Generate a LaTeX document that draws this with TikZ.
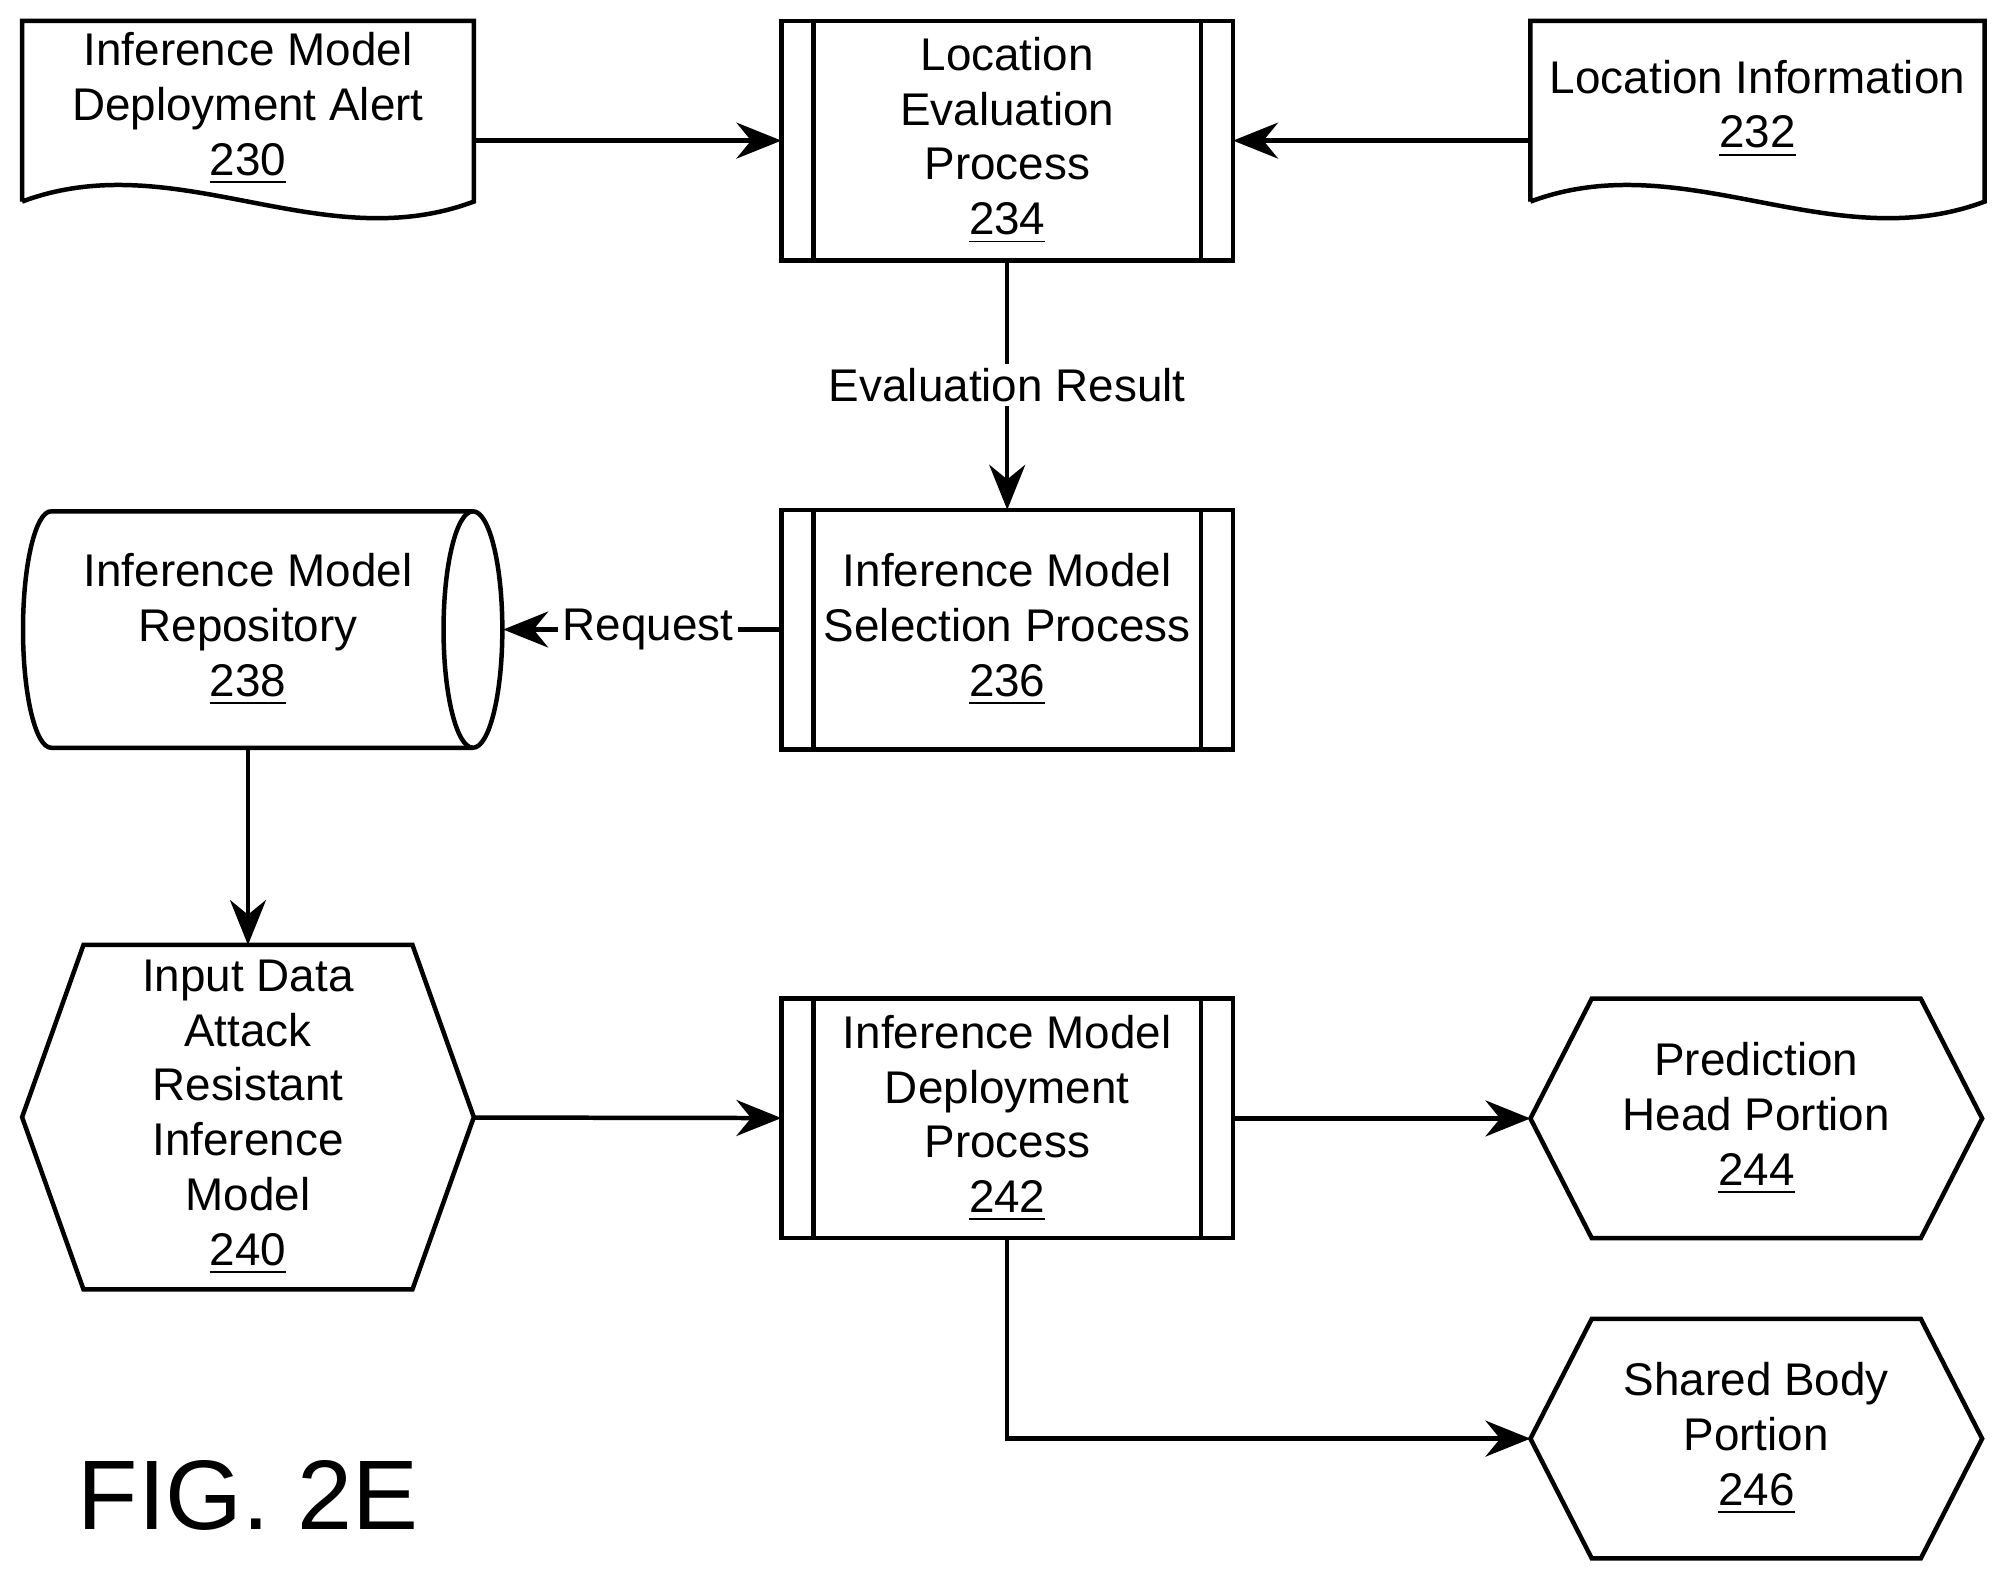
\documentclass[tikz,border=0pt]{standalone}
\usepackage{fontspec}
\setmainfont{Liberation Sans}
\usetikzlibrary{arrows.meta,positioning}
\tikzset{
  box/.style={minimum width=3.52cm,minimum height=1.86cm,align=center,inner sep=0pt,font=\fontsize{10.2}{12.2}\selectfont},
  link/.style={line width=1pt,-{Stealth[length=10pt,width=8pt]}},
  edge/.style={line width=1pt},
  lbl/.style={fill=white,inner sep=1pt,font=\fontsize{10.2}{12.2}\selectfont}
}
\newcommand{\procbox}[1]{%
  \draw[edge] (#1.south west) rectangle (#1.north east);
  \draw[edge] ([xshift=0.25cm]#1.south west) -- ([xshift=0.25cm]#1.north west);
  \draw[edge] ([xshift=-0.25cm]#1.south east) -- ([xshift=-0.25cm]#1.north east);}
\newcommand{\hexbox}[1]{%
  \draw[edge] (#1.west) -- ([xshift=0.48cm]#1.north west) -- ([xshift=-0.48cm]#1.north east)
    -- (#1.east) -- ([xshift=-0.48cm]#1.south east) -- ([xshift=0.48cm]#1.south west) -- cycle;}
\newcommand{\docbox}[1]{%
  \draw[edge] ([yshift=0.23cm]#1.south west) -- (#1.north west) -- (#1.north east)
    -- ([yshift=0.23cm]#1.south east)
    .. controls +(-1.2,-0.45) and +(1.2,0.45) .. ([yshift=0.23cm]#1.south west);}
\begin{document}
\begin{tikzpicture}[x=1cm,y=1cm]
\useasboundingbox (0,0) rectangle (15.6,-12.3);

% documents and processes
\node[box,minimum height=1.63cm] (alert) at (1.94,-0.985) {};
\node[align=center,font=\fontsize{10.2}{12.2}\selectfont] at (1.94,-0.85) {Inference Model\\Deployment Alert\\\underline{230}};
\docbox{alert}
\node[box] (evalproc) at (7.88,-1.1) {Location\\Evaluation\\Process\\\underline{234}};
\procbox{evalproc}
\node[box,minimum height=1.63cm,minimum width=3.54cm] (locinfo) at (13.75,-0.985) {};
\node[align=center,font=\fontsize{10.2}{12.2}\selectfont] at (13.75,-0.85) {Location Information\\\underline{232}};
\docbox{locinfo}

\node[box] (select) at (7.88,-4.925) {Inference Model\\Selection Process\\\underline{236}};
\procbox{select}
\node[box,minimum width=3.75cm,minimum height=1.85cm] (repo) at (2.055,-4.925) {};
\node[align=center,font=\fontsize{10.2}{12.2}\selectfont] at (1.94,-4.925) {Inference Model\\Repository\\\underline{238}};
\draw[edge] (0.4,-4.0) -- (3.7,-4.0) arc[start angle=90,end angle=-90,x radius=0.23,y radius=0.925]
  -- (0.4,-5.85) arc[start angle=270,end angle=90,x radius=0.22,y radius=0.925];
\draw[edge] (3.7,-4.0) arc[start angle=90,end angle=270,x radius=0.23,y radius=0.925];

% models
\node[box,minimum height=2.68cm] (model) at (1.94,-8.74) {Input Data\\Attack\\Resistant\\Inference\\Model\\\underline{240}};
\hexbox{model}
\node[box] (deploy) at (7.88,-8.75) {Inference Model\\Deployment\\Process\\\underline{242}};
\procbox{deploy}
\node[box] (head) at (13.74,-8.75) {Prediction\\Head Portion\\\underline{244}};
\hexbox{head}
\node[box] (body) at (13.74,-11.255) {Shared Body\\Portion\\\underline{246}};
\hexbox{body}

% connectors
\draw[link] (alert.east |- 0,-1.1) -- (evalproc.west |- 0,-1.1);
\draw[link] (locinfo.west |- 0,-1.1) -- (evalproc.east |- 0,-1.1);
\draw[link] (evalproc) -- node[lbl] {Evaluation Result} (select);
\draw[link] (select) -- node[lbl,pos=0.48] {Request} (repo.east);
\draw[link] (repo.south -| 1.94,0) -- (model);
\draw[link] (model) -- (deploy);
\draw[link] (deploy) -- (head);
\coordinate (bend) at (deploy.south |- body);
\draw[link] (deploy.south) -- (bend) -- (body);

\node[font=\fontsize{22}{26}\selectfont] (fig) at (1.94,-11.7) {FIG. 2E};
\end{tikzpicture}
\end{document}
